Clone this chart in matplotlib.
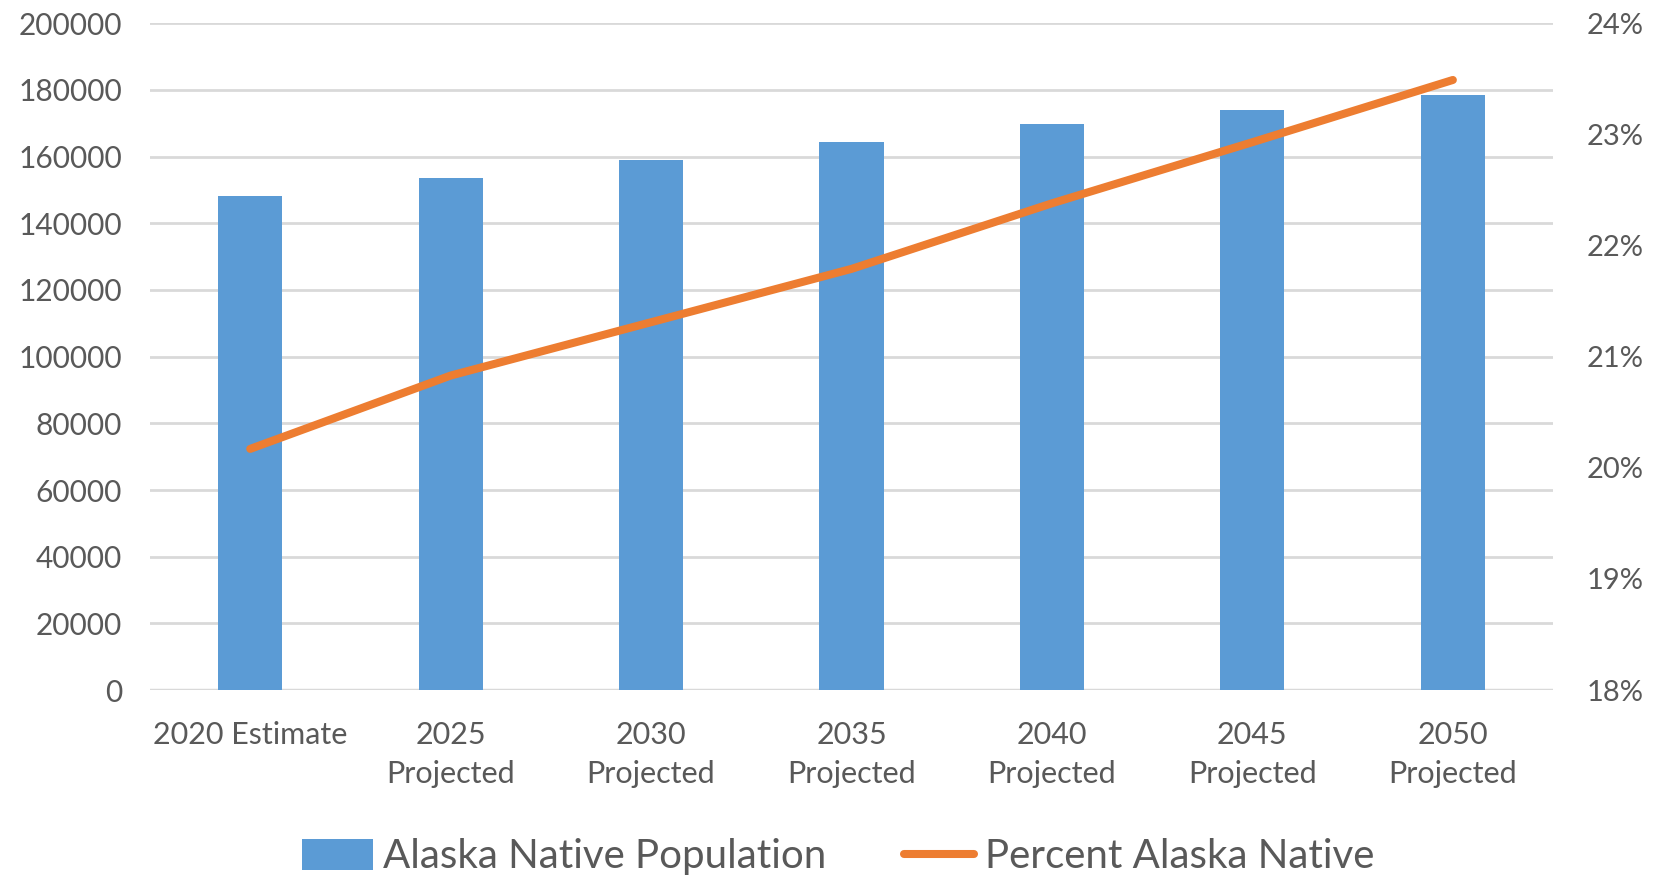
import matplotlib

matplotlib.use('Agg')
import matplotlib.pyplot as plt
from matplotlib.ticker import FuncFormatter

plt.rcParams['font.family'] = ['Lato', 'DejaVu Sans']

# values
categories = ['2020 Estimate', '2025\nProjected', '2030\nProjected', '2035\nProjected',
              '2040\nProjected', '2045\nProjected', '2050\nProjected']
population = [148300, 153600, 159100, 164500, 169800, 174100, 178400]
percent_native = [20.17, 20.83, 21.31, 21.79, 22.38, 22.93, 23.49]

bar_color = '#5B9BD5'
line_color = '#ED7D31'
grid_color = '#D9D9D9'
text_color = '#595959'

fig = plt.figure(figsize=(16.63, 8.76), dpi=100)
ax = fig.add_axes([0.0902, 0.2123, 0.8437, 0.7611])
ax2 = ax.twinx()

x = list(range(len(categories)))
bars = ax.bar(x, population, width=0.32, color=bar_color, zorder=2,
              label='Alaska Native Population')
line, = ax2.plot(x, percent_native, color=line_color, linewidth=5.8,
                 solid_capstyle='round', zorder=3, label='Percent Alaska Native')

ax.set_xlim(-0.5, len(categories) - 0.5)
ax.set_ylim(0, 200000)
ax.set_yticks(range(0, 200001, 20000))
ax2.set_ylim(18, 24)
ax2.set_yticks(range(18, 25))
ax2.yaxis.set_major_formatter(FuncFormatter(lambda v, p: '{:.0f}%'.format(v)))

ax.set_xticks(x)
ax.set_xticklabels(categories)
ax.grid(axis='y', color=grid_color, linewidth=2, zorder=0)
ax.set_axisbelow(True)

for a in (ax, ax2):
    for s in ['top', 'left', 'right', 'bottom']:
        a.spines[s].set_visible(False)
ax.axhline(0, color=grid_color, linewidth=2.5, zorder=1)

ax.tick_params(axis='y', length=0, pad=20, labelsize=21.5, labelcolor=text_color)
ax.tick_params(axis='x', length=0, pad=22, labelsize=22, labelcolor=text_color)
ax2.tick_params(axis='y', length=0, pad=24, labelsize=21, labelcolor=text_color)
for lbl in ax.get_xticklabels():
    lbl.set_linespacing(1.5)

ax.set_zorder(ax2.get_zorder() - 1)
ax2.patch.set_visible(False)
ax.patch.set_visible(True)

leg = fig.legend([bars, line], ['Alaska Native Population', 'Percent Alaska Native'],
                 loc='center', bbox_to_anchor=(0.504, 0.022), ncol=2, frameon=False,
                 fontsize=29, handlelength=1.75, handleheight=0.8, handletextpad=0.25,
                 columnspacing=1.93)
for t in leg.get_texts():
    t.set_color(text_color)

fig.savefig('out.png', dpi=100)
